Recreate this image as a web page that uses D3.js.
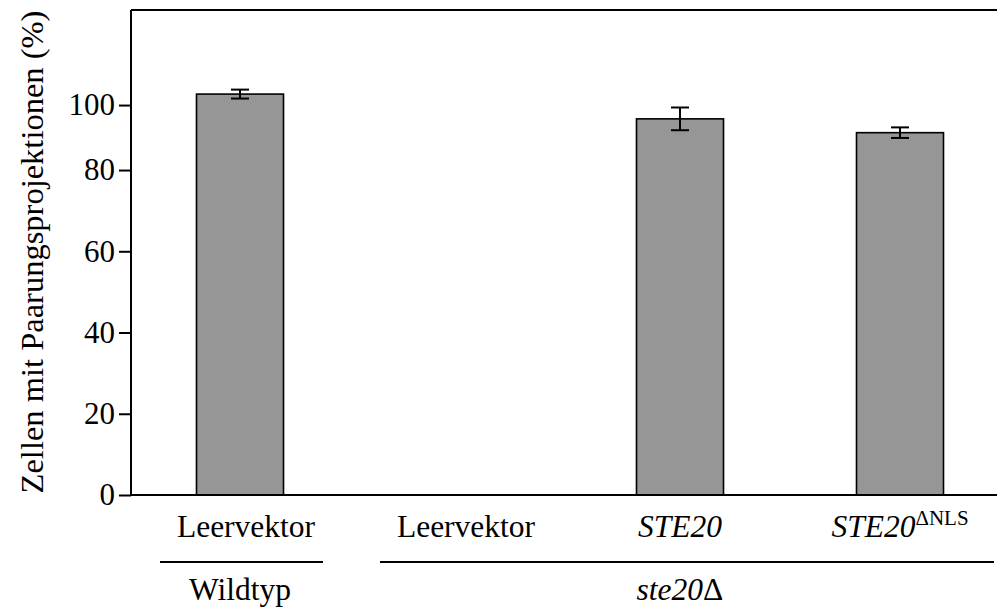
<!DOCTYPE html>
<html><head><meta charset="utf-8">
<script src="https://cdn.jsdelivr.net/npm/d3@7"></script>
<style>
body{margin:0;background:#fff}
svg{display:block}
text{font-family:"Liberation Serif","Times New Roman",serif;fill:#000}
</style>
</head><body><svg id="chart" width="997" height="610"></svg>
<script>
// ---- data ----
const categoryIds = ["wt_leer", "d_leer", "d_ste20", "d_ste20dnls"];
const categoryLabels = ["Leervektor", "Leervektor", "STE20", "STE20"];
const categoryItalic = [false, false, true, true];
const categorySup = ["", "", "", "ΔNLS"];
const values = [98.7, 0, 92.6, 89.2];
const errors = [1.1, 0, 2.8, 1.3];
const groupLabels = ["Wildtyp", "ste20"];
const groupSuffix = ["", "Δ"];
const groupItalic = [false, true];
const groupFirst = [0, 1];
const groupLast = [0, 3];
const yTickValues = [0, 20, 40, 60, 80, 100];
// level (in data units) at which the original figure draws each tick
const yTickLevels = [0, 20, 40, 60, 80, 96];
const yMax = 119.4;
const yTitle = "Zellen mit Paarungsprojektionen (%)";

// ---- layout ----
const mLeft = 131, mRight = 997, mTop = 10, mBottom = 495;
const svg = d3.select("#chart");

const y = d3.scaleLinear().domain([0, yMax]).range([mBottom, mTop]);
const yAxisScale = d3.scaleLinear().domain(yTickValues).range(yTickLevels.map(v => y(v)));
const x = d3.scaleBand().domain(categoryIds).range([130, 1010]).paddingInner(0.6045).paddingOuter(0.30225);
const bw = x.bandwidth();
const cx = i => x(categoryIds[i]) + bw / 2;

// bars
svg.append("g").selectAll("rect").data(values).join("rect")
  .attr("x", (d, i) => x(categoryIds[i]))
  .attr("y", d => y(d))
  .attr("width", bw)
  .attr("height", d => y(0) - y(d))
  .attr("fill", d => d > 0 ? "#969696" : "none")
  .attr("stroke", d => d > 0 ? "#000" : "none")
  .attr("stroke-width", 1.6);

// error bars
const eb = svg.append("g").attr("stroke", "#000").attr("stroke-width", 2);
values.forEach((v, i) => {
  const c = cx(i);
  eb.append("line").attr("x1", c).attr("x2", c).attr("y1", y(v + errors[i])).attr("y2", y(v - errors[i]));
  [v + errors[i], v - errors[i]].forEach(e => {
    eb.append("line").attr("x1", c - 9).attr("x2", c + 9).attr("y1", y(e)).attr("y2", y(e));
  });
});

// frame lines
const fr = svg.append("g").attr("stroke", "#000").attr("stroke-width", 2);
fr.append("line").attr("x1", mLeft).attr("x2", mLeft).attr("y1", y(yMax)).attr("y2", y(0));
fr.append("line").attr("x1", mLeft).attr("x2", mRight).attr("y1", y(yMax)).attr("y2", y(yMax));
fr.append("line").attr("x1", mLeft).attr("x2", mRight).attr("y1", y(0)).attr("y2", y(0));

// y axis
const ax = svg.append("g").attr("transform", `translate(${mLeft},0)`)
  .call(d3.axisLeft(yAxisScale).tickValues(yTickValues).tickSize(12).tickPadding(4).tickSizeOuter(0));
ax.select(".domain").remove();
ax.selectAll(".tick line").attr("stroke", "#000").attr("stroke-width", 2);
ax.selectAll(".tick text").attr("font-size", 31).attr("font-family", "Liberation Serif").attr("fill", "#000");

// y title
svg.append("text")
  .attr("transform", "translate(43,252) rotate(-90)")
  .attr("text-anchor", "middle")
  .attr("font-size", 32.5)
  .text(yTitle);

// category labels
categoryIds.forEach((id, i) => {
  const t = svg.append("text")
    .attr("x", cx(i) + (categoryItalic[i] ? 0 : 6)).attr("y", 537)
    .attr("text-anchor", "middle")
    .attr("font-size", 31.5);
  t.append("tspan").attr("font-style", categoryItalic[i] ? "italic" : "normal").text(categoryLabels[i]);
  if (categorySup[i]) {
    t.append("tspan").attr("font-size", 21).attr("dy", -12).text(categorySup[i]);
  }
});

// group lines and labels
groupLabels.forEach((g, k) => {
  const x1 = cx(groupFirst[k]) - 80;
  const x2 = cx(groupLast[k]) + (groupFirst[k] === groupLast[k] ? 83 : 94);
  svg.append("line").attr("x1", x1).attr("x2", x2).attr("y1", 562).attr("y2", 562)
    .attr("stroke", "#000").attr("stroke-width", 2);
  const mid = groupFirst[k] === groupLast[k] ? cx(groupFirst[k]) : (cx(groupFirst[k]) + cx(groupLast[k])) / 2;
  const t = svg.append("text").attr("x", mid).attr("y", 600)
    .attr("text-anchor", "middle").attr("font-size", 31.5);
  t.append("tspan").attr("font-style", groupItalic[k] ? "italic" : "normal").text(g);
  if (groupSuffix[k]) t.append("tspan").text(groupSuffix[k]);
});
</script>
</body></html>
